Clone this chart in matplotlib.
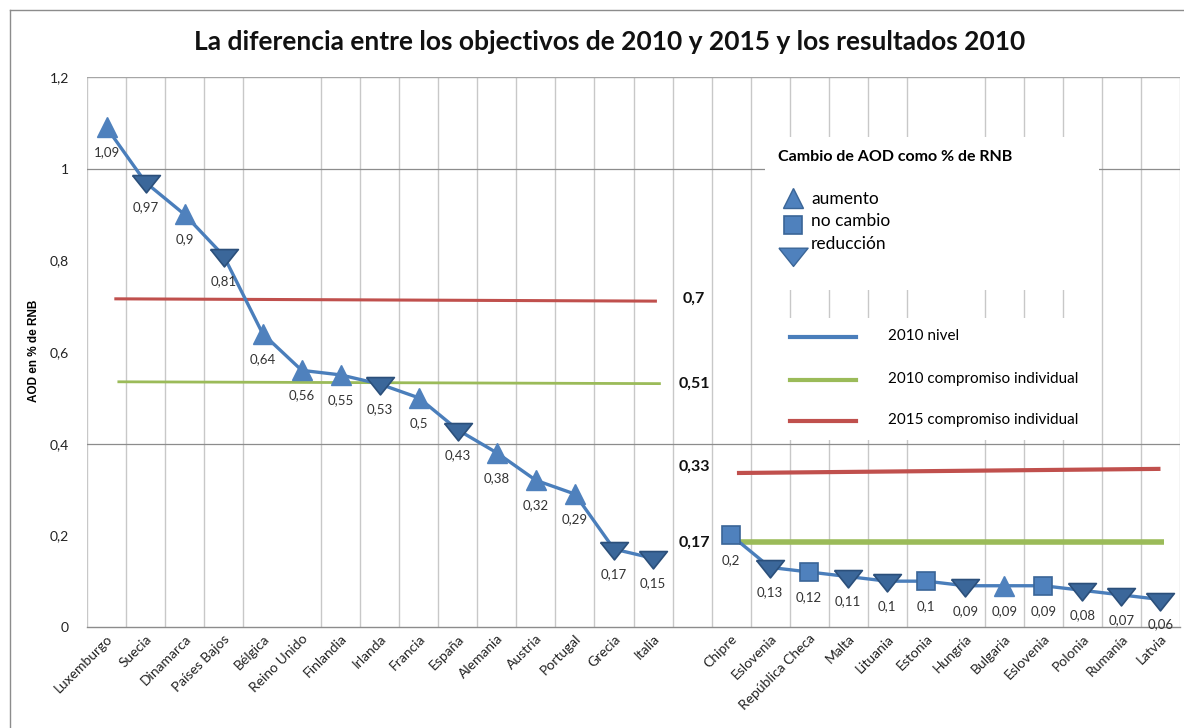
import numpy as np
import matplotlib
matplotlib.use("Agg")
import matplotlib.pyplot as plt
from matplotlib.lines import Line2D
from matplotlib.patches import Rectangle

# ---------------- data ----------------
countries = ["Luxemburgo", "Suecia", "Dinamarca", "Países Bajos", "Bélgica", "Reino Unido",
             "Finlandia", "Irlanda", "Francia", "España", "Alemania", "Austria", "Portugal",
             "Grecia", "Italia", "",
             "Chipre", "Eslovenia", "República Checa", "Malta", "Lituania", "Estonia",
             "Hungría", "Bulgaria", "Eslovenia", "Polonia", "Rumanía", "Latvia"]
values = [1.09, 0.97, 0.90, 0.81, 0.64, 0.56, 0.55, 0.53, 0.50, 0.43, 0.38, 0.32, 0.29, 0.17, 0.15,
          np.nan,
          0.20, 0.13, 0.12, 0.11, 0.10, 0.10, 0.09, 0.09, 0.09, 0.08, 0.07, 0.06]
labels = ["1,09", "0,97", "0,9", "0,81", "0,64", "0,56", "0,55", "0,53", "0,5", "0,43", "0,38",
          "0,32", "0,29", "0,17", "0,15", "",
          "0,2", "0,13", "0,12", "0,11", "0,1", "0,1", "0,09", "0,09", "0,09", "0,08", "0,07", "0,06"]
# change of ODA: 'up' aumento, 'same' no cambio, 'down' reducción
change = ["up", "down", "up", "down", "up", "up", "up", "down", "up", "down", "up", "up", "up",
          "down", "down", "",
          "same", "down", "same", "down", "down", "same", "down", "up", "same", "down", "down", "down"]

# commitment lines (as drawn in the picture): (x_start, x_end, y_start, y_end)
commit_2015_old = (0.2, 14.1, 0.716, 0.711)
commit_2010_old = (0.28, 14.2, 0.535, 0.531)
commit_2015_new = (16.15, 27.0, 0.336, 0.345)
commit_2010_new = (16.2, 27.1, 0.186, 0.186)
commit_labels = ["0,7", "0,51", "0,33", "0,17"]
commit_label_y = [0.717, 0.53, 0.35, 0.183]

yticks = [0, 0.2, 0.4, 0.6, 0.8, 1.0, 1.2]
ytick_labels = ["0", "0,2", "0,4", "0,6", "0,8", "1", "1,2"]

title = "La diferencia entre los objectivos de 2010 y 2015 y los resultados 2010"

# ---------------- style ----------------
FONT = "Lato"
BLUE_LINE = "#4A7EBB"
UP_FC = "#4F81BD"
DOWN_FC = "#3B679A"
DOWN_EC = "#2B4F7A"
SQ_FC = "#4F81BD"
SQ_EC = "#3A6597"
RED = "#C0504D"
GREEN = "#9BBB59"
GRID = "#C8C8C8"

W, H = 1184, 728
fig = plt.figure(figsize=(W / 100, H / 100), dpi=100)
fig.patch.set_facecolor("white")

def fx(px):
    return px / W

def fy(py):
    return 1 - py / H

ax = fig.add_axes([fx(87), fy(627), fx(1180) - fx(87), fy(77) - fy(627)])
ax.set_xlim(-0.5, len(countries) - 0.5)
ax.set_ylim(0, 1.2)

for s in ["top", "right", "left"]:
    ax.spines[s].set_visible(False)
ax.spines["bottom"].set_color("#8C8C8C")
ax.spines["bottom"].set_linewidth(1.0)

# gridlines
ax.axhline(1.2, color="#A6A6A6", lw=1.0, zorder=0.5)
for yv in [1.0, 0.4]:
    ax.axhline(yv, color="#8C8C8C", lw=0.9, zorder=0.5)
skip = {5, 22}
for k in range(0, len(countries) + 1):
    if k in skip:
        continue
    ax.axvline(k - 0.5, color=GRID, lw=1.0, zorder=0.4)

x = np.arange(len(countries))
ax.set_xticks(x)
ax.set_xticklabels(countries, rotation=45, ha="right", rotation_mode="anchor",
                   fontsize=10, family=FONT, color="#222222")
ax.tick_params(axis="x", length=0, pad=4)
ax.set_yticks(yticks)
ax.set_yticklabels(ytick_labels, fontsize=10, family=FONT, color="#222222")
ax.tick_params(axis="y", length=0, pad=13)

ax.set_ylabel("AOD en % de RNB", fontsize=8.5, fontweight="bold", family="Liberation Sans")
ax.yaxis.set_label_coords((40 - 87) / (1180 - 87), (627 - 351) / 550)

# commitment lines
for (x0, x1, y0, y1), col, lw in [(commit_2015_old, RED, 2.2), (commit_2010_old, GREEN, 2.0),
                                  (commit_2015_new, RED, 3.0), (commit_2010_new, GREEN, 4.0)]:
    ax.plot([x0, x1], [y0, y1], color=col, lw=lw, solid_capstyle="butt", zorder=2)
for lab, yv in zip(commit_labels, commit_label_y):
    ax.text(15.05, yv, lab, ha="center", va="center", fontsize=11.5, fontweight="bold",
            family=FONT, color="#111111")

# main line
vals = np.array(values, dtype=float)
ax.plot(x, vals, color=BLUE_LINE, lw=2.4, zorder=3)

down_marker = [(-1.0, 0.5), (1.0, 0.5), (0.0, -0.75), (-1.0, 0.5)]
for xi, v, c in zip(x, vals, change):
    if np.isnan(v):
        continue
    if c == "up":
        ax.plot(xi, v, marker="^", ms=14, mfc=UP_FC, mec=UP_FC, mew=1, zorder=4)
    elif c == "down":
        ax.plot(xi, v, marker=down_marker, ms=20, mfc=DOWN_FC, mec=DOWN_EC, mew=1.2, zorder=4)
    else:
        ax.plot(xi, v, marker="s", ms=13, mfc=SQ_FC, mec=SQ_EC, mew=1.2, zorder=4)

for xi, v, lab in zip(x, vals, labels):
    if np.isnan(v):
        continue
    ax.annotate(lab, (xi, v), xytext=(0, -18), textcoords="offset points",
                ha="center", va="center", fontsize=9.5, family=FONT, color="#333333", zorder=5)

# ---------------- legend (custom) ----------------
tf = fig.transFigure
for (x0, y0, x1, y1) in [(765, 137, 1099, 290), (765, 318, 1099, 440)]:
    fig.add_artist(Rectangle((fx(x0), fy(y1)), fx(x1) - fx(x0), fy(y0) - fy(y1),
                             transform=tf, facecolor="white", edgecolor="none", zorder=6))

fig.text(fx(778), fy(157), "Cambio de AOD como % de RNB", fontsize=11.5, fontweight="bold",
         family=FONT, va="center", ha="left", zorder=7)
fig.add_artist(Line2D([fx(793)], [fy(198)], marker="^", ms=15, mfc=UP_FC, mec="#3A6597",
                      mew=1, transform=tf, zorder=7))
fig.add_artist(Line2D([fx(793)], [fy(225)], marker="s", ms=13, mfc=SQ_FC, mec=SQ_EC,
                      mew=1.2, transform=tf, zorder=7))
fig.add_artist(Line2D([fx(793)], [fy(255)], marker=down_marker, ms=21, mfc=UP_FC,
                      mec="#3A6597", mew=1, transform=tf, zorder=7))
for yy, t in [(199, "aumento"), (221, "no cambio"), (244, "reducción")]:
    fig.text(fx(811), fy(yy), t, fontsize=12.5, family=FONT, va="center", ha="left", zorder=7)

for yy, col, t in [(337, BLUE_LINE, "2010 nivel"), (380, GREEN, "2010 compromiso individual"),
                   (421, RED, "2015 compromiso individual")]:
    fig.add_artist(Line2D([fx(790), fx(856)], [fy(yy), fy(yy)], color=col, lw=3,
                          transform=tf, zorder=7))
    fig.text(fx(888), fy(yy - 1), t, fontsize=11, family=FONT, va="center", ha="left", zorder=7)

# title
fig.text(fx(610), fy(42), title, fontsize=19, fontweight="bold", family=FONT,
         ha="center", va="center", color="#111111")

# outer frame
fig.add_artist(Line2D([fx(10), fx(10)], [fy(10), 0], color="#8C8C8C", lw=1, transform=tf))
fig.add_artist(Line2D([fx(10), 1], [fy(10), fy(10)], color="#8C8C8C", lw=1, transform=tf))

fig.savefig("out.png", dpi=100)
